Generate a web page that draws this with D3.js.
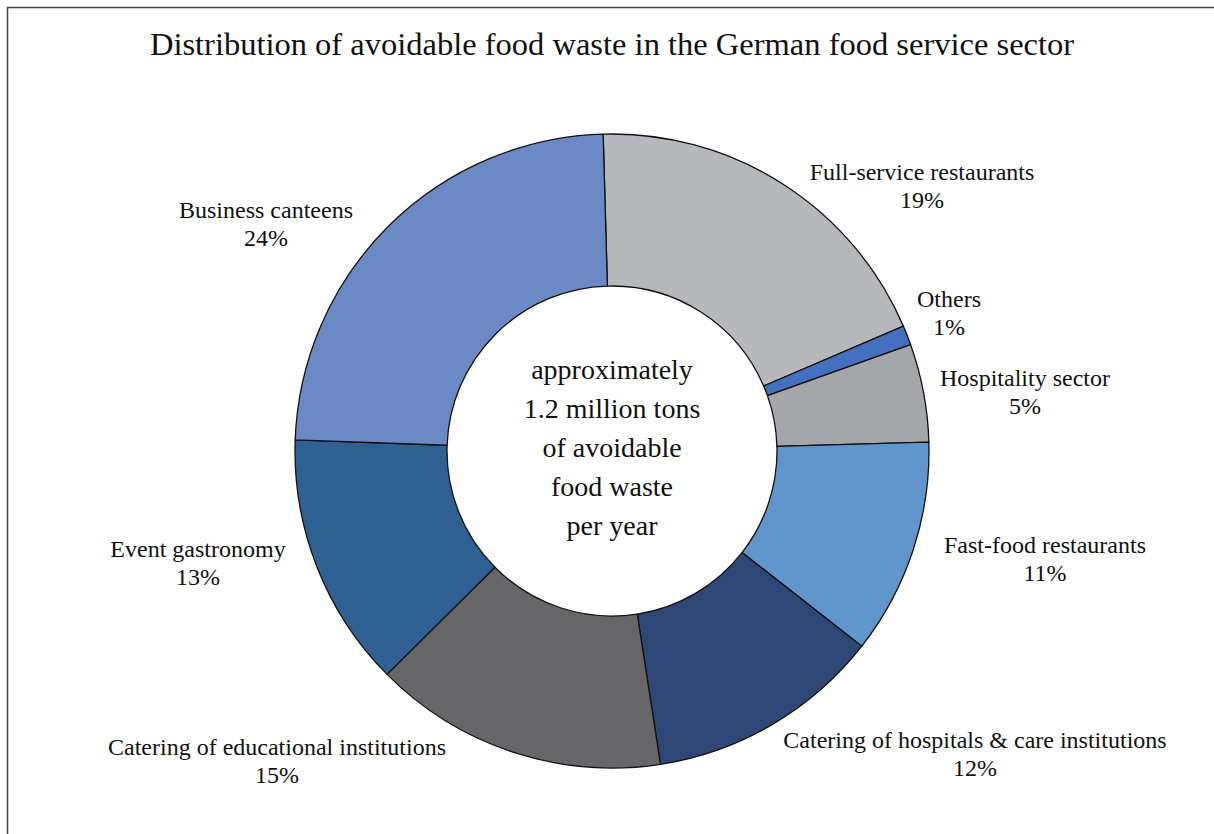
<!DOCTYPE html>
<html>
<head>
<meta charset="utf-8">
<script src="https://cdn.jsdelivr.net/npm/d3@7"></script>
<style>
  html, body { margin: 0; padding: 0; background: #fff; }
  svg { display: block; }
  text { font-family: "Liberation Serif", "Times New Roman", serif; fill: #111; }
</style>
</head>
<body>
<svg id="chart" width="1214" height="834"></svg>
<script>
// Share of avoidable food waste per segment (percent), clockwise from the top
const categories = [
  "Full-service restaurants",
  "Others",
  "Hospitality sector",
  "Fast-food restaurants",
  "Catering of hospitals & care institutions",
  "Catering of educational institutions",
  "Event gastronomy",
  "Business canteens"
];
const shares = [19, 1, 5, 11, 12, 15, 13, 24];
const sliceColors = ["#B7B8BC", "#4370BF", "#A5A6A9", "#6096CB", "#2F4776", "#67676A", "#2F6193", "#6B89C5"];
const centerLines = ["approximately", "1.2 million tons", "of avoidable", "food waste", "per year"];
const title = "Distribution of avoidable food waste in the German food service sector";

// Label anchor placement: [x, y] of the first baseline
const labelAnchors = [
  [922, 180], [949, 307], [1025, 386], [1045, 553],
  [975, 748], [277, 755], [198, 557], [266, 218]
];

const svg = d3.select("#chart");
const W = 1214, H = 834;
const cx = 612, cy = 451;
const outerR = 317, innerR = 165;
const startDeg = -1.6;

// Frame around the chart area (extends past the right/bottom edges)
svg.append("rect")
  .attr("x", 7.5).attr("y", 7.5)
  .attr("width", W + 20).attr("height", H + 20)
  .attr("fill", "none")
  .attr("stroke", "#444")
  .attr("stroke-width", 1.5);

svg.append("text")
  .attr("x", 612).attr("y", 55)
  .attr("text-anchor", "middle")
  .attr("font-size", 32.5)
  .text(title);

const pie = d3.pie()
  .value(d => d)
  .sort(null)
  .startAngle(startDeg * Math.PI / 180)
  .endAngle(2 * Math.PI + startDeg * Math.PI / 180);

const arc = d3.arc().innerRadius(innerR).outerRadius(outerR);

const g = svg.append("g").attr("transform", `translate(${cx},${cy})`);

g.selectAll("path.slice")
  .data(pie(shares))
  .join("path")
  .attr("class", "slice")
  .attr("d", arc)
  .attr("fill", (d, i) => sliceColors[i])
  .attr("stroke", "#111")
  .attr("stroke-width", 1.3)
  .attr("stroke-linejoin", "round");

// Center text
const lineGap = 39;
g.selectAll("text.center")
  .data(centerLines)
  .join("text")
  .attr("class", "center")
  .attr("x", 0)
  .attr("y", (d, i) => -72 + i * lineGap)
  .attr("text-anchor", "middle")
  .attr("font-size", 28)
  .text(d => d);

// Category labels with percentage on the second line
const labels = svg.selectAll("text.label")
  .data(categories)
  .join("text")
  .attr("class", "label")
  .attr("text-anchor", "middle")
  .attr("font-size", 24);

labels.append("tspan")
  .attr("x", (d, i) => labelAnchors[i][0])
  .attr("y", (d, i) => labelAnchors[i][1])
  .text(d => d);

labels.append("tspan")
  .attr("x", (d, i) => labelAnchors[i][0])
  .attr("dy", 27.5)
  .text((d, i) => shares[i] + "%");
</script>
</body>
</html>
